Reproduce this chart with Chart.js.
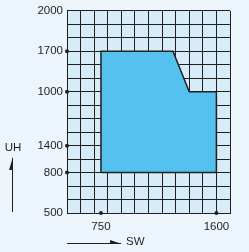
<!DOCTYPE html>
<html>
<head>
<meta charset="utf-8">
<script src="https://cdn.jsdelivr.net/npm/chart.js@4"></script>
<style>
  html, body { margin: 0; padding: 0; background: #ecf5fc; }
  #wrap { width: 249px; height: 252px; }
</style>
</head>
<body>
<div id="wrap"><canvas id="chart"></canvas></div>
<script>
// Grid is 12 x 15 squares; tick labels sit at grid positions
const xTickPos = [2.5, 11];
const xTickLabels = ['750', '1600'];
const yTickPos = [0, 3, 5, 9, 12, 15];
const yTickLabels = ['500', '800', '1400', '1000', '1700', '2000'];

// Outline of the working range (grid units)
const shapeX = [2.5, 2.5, 7.8, 9, 11, 11, 2.5];
const shapeY = [3, 12, 12, 9, 9, 3, 3];

const INK = '#231f20';
const FONT = { size: 11.5, family: '"Liberation Sans", Arial, sans-serif' };

// Dots on the axes at labelled positions (corners excluded)
const dots = [];
xTickPos.forEach(x => dots.push({ x: x, y: 0 }));
yTickPos.filter(y => y > 0 && y < 15).forEach(y => dots.push({ x: 0, y: y }));

const plotBg = {
  id: 'plotBg',
  beforeDraw(chart) {
    const a = chart.chartArea;
    const ctx = chart.ctx;
    ctx.save();
    ctx.fillStyle = '#d6ecf9';
    ctx.fillRect(a.left, a.top, a.right - a.left, a.bottom - a.top);
    ctx.restore();
  }
};

// Axis names with the little arrows
const axisArrows = {
  id: 'axisArrows',
  afterDraw(chart) {
    const a = chart.chartArea;
    const ctx = chart.ctx;
    ctx.save();
    ctx.strokeStyle = INK;
    ctx.fillStyle = INK;
    ctx.lineWidth = 1;

    // vertical arrow (UH)
    ctx.beginPath();
    ctx.moveTo(12.5, a.bottom - 1);
    ctx.lineTo(12.5, 158);
    ctx.stroke();
    ctx.beginPath();
    ctx.moveTo(13, 157);
    ctx.lineTo(13, 170);
    ctx.lineTo(9, 170);
    ctx.closePath();
    ctx.fill();

    // horizontal arrow (SW)
    ctx.beginPath();
    ctx.moveTo(a.left, 243.5);
    ctx.lineTo(121, 243.5);
    ctx.stroke();
    ctx.beginPath();
    ctx.moveTo(122, 244);
    ctx.lineTo(110, 244);
    ctx.lineTo(110, 240);
    ctx.closePath();
    ctx.fill();

    ctx.font = '11.5px "Liberation Sans", Arial, sans-serif';
    ctx.textBaseline = 'middle';
    ctx.textAlign = 'center';
    ctx.fillText('UH', 13, 148);
    ctx.textAlign = 'left';
    ctx.fillText('SW', 126, 242);
    ctx.restore();
  }
};

new Chart(document.getElementById('chart'), {
  type: 'scatter',
  data: {
    datasets: [{
      data: shapeX.map((x, i) => ({ x: x, y: shapeY[i] })),
      showLine: true,
      fill: 'shape',
      backgroundColor: '#55c1ee',
      borderColor: INK,
      borderWidth: 1.5,
      pointRadius: 0,
      tension: 0
    }, {
      data: dots,
      pointRadius: 2,
      backgroundColor: INK,
      borderWidth: 0,
      clip: false
    }]
  },
  options: {
    responsive: true,
    maintainAspectRatio: false,
    animation: false,
    events: [],
    layout: { padding: { left: 0, right: 19, top: 9, bottom: 0 } },
    plugins: {
      legend: { display: false },
      tooltip: { enabled: false }
    },
    scales: {
      x: {
        type: 'linear',
        min: 0,
        max: 12,
        afterFit(scale) { scale.height = 39; },
        ticks: {
          stepSize: 0.5,
          autoSkip: false,
          maxRotation: 0,
          padding: 7,
          color: INK,
          font: FONT,
          callback: function(value) {
            const i = xTickPos.indexOf(value);
            return i >= 0 ? xTickLabels[i] : '';
          }
        },
        grid: {
          drawTicks: false,
          color: ctx => (ctx.tick && ctx.tick.value % 1 === 0) ? INK : 'rgba(0,0,0,0)'
        },
        border: { color: INK, width: 1 }
      },
      y: {
        type: 'linear',
        min: 0,
        max: 15,
        afterFit(scale) { scale.width = 67; },
        ticks: {
          stepSize: 1,
          autoSkip: false,
          padding: 4,
          color: INK,
          font: FONT,
          callback: function(value) {
            const i = yTickPos.indexOf(value);
            return i >= 0 ? yTickLabels[i] : '';
          }
        },
        grid: {
          drawTicks: false,
          color: INK
        },
        border: { color: INK, width: 1 }
      }
    }
  },
  plugins: [plotBg, axisArrows]
});
</script>
</body>
</html>
